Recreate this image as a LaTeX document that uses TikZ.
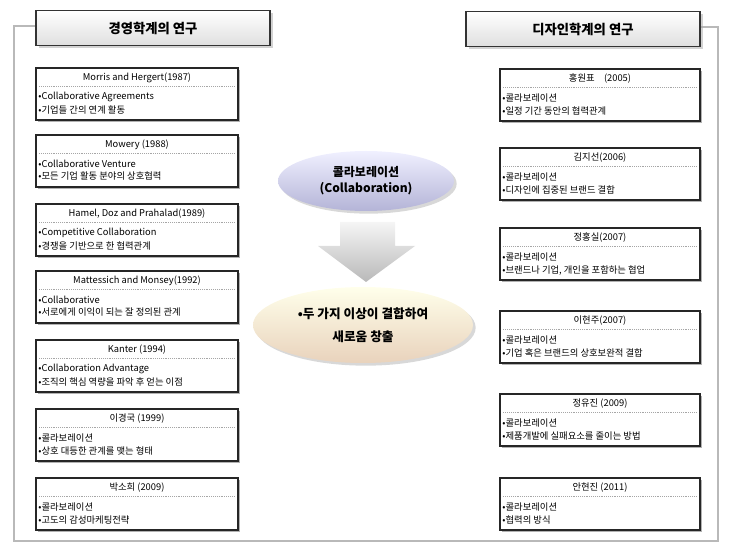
\documentclass[tikz,border=0pt]{standalone}
\usepackage{fontspec}
\setmainfont{Noto Sans CJK KR}
\usetikzlibrary{shadows,shapes.geometric,positioning}
\tikzset{
  frame/.style={draw=gray!55, line width=2.2pt},
  titlebox/.style={draw=black!80, thick, minimum width=175.5pt, minimum height=26pt,
    top color=white, bottom color=gray!25, font=\bfseries\fontsize{10}{12}\selectfont,
    drop shadow={shadow xshift=2pt,shadow yshift=-2pt,fill=gray!70}},
  refbox/.style={draw=black!85, thick, fill=white, minimum height=39pt,
    drop shadow={shadow xshift=1.8pt,shadow yshift=-1.8pt,fill=black!60}},
  reftext/.style={font=\fontsize{7}{8}\selectfont, inner sep=0pt},
  sep/.style={densely dotted, gray!70, thin},
  cloud/.style={ellipse, draw=none, drop shadow={shadow xshift=2pt,shadow yshift=-2pt,fill=gray!60}},
}
\begin{document}
\begin{tikzpicture}[x=0.75pt,y=-0.75pt]
  \useasboundingbox (0,0) rectangle (732,552);
  % frame
  \draw[frame] (36,26) -- (14,26) -- (14,541) -- (718,541) -- (718,27) -- (700,27);
  \node[titlebox] (mgmt) at (153,28) {경영학계의 연구};
  \node[titlebox] (design) at (583,29) {디자인학계의 연구};
  % left column
  \foreach \nm/\yy/\ttl/\la/\lb in {
      m1/94/{Morris and Hergert(1987)}/{Collaborative Agreements}/{기업들 간의 연계 활동},
      m2/161/{Mowery (1988)}/{Collaborative Venture}/{모든 기업 활동 분야의 상호협력},
      m3/230/{Hamel, Doz and Prahalad(1989)}/{Competitive Collaboration}/{경쟁을 기반으로 한 협력관계},
      m4/297/{Mattessich and Monsey(1992)}/{Collaborative}/{서로에게 이익이 되는 잘 정의된 관계},
      m5/366/{Kanter (1994)}/{Collaboration Advantage}/{조직의 핵심 역량을 파악 후 얻는 이점},
      m6/435/{이경국 (1999)}/{콜라보레이션}/{상호 대등한 관계를 맺는 형태},
      m7/504/{박소희 (2009)}/{콜라보레이션}/{고도의 감성마케팅전략}}{
    \node[refbox, minimum width=151.5pt] (\nm) at (137,\yy) {};
    \node[reftext, below=3.5pt of \nm.north] (\nm t) {\ttl};
    \draw[sep] ([xshift=3pt,yshift=-14pt]\nm.north west) -- ([xshift=-3pt,yshift=-14pt]\nm.north east);
    \node[reftext, anchor=west] (\nm a) at ([xshift=2pt,yshift=-2pt]\nm.west) {•\la};
    \node[reftext, below=3pt of \nm a.south west, anchor=north west] (\nm b) {•\lb};
  }
  % right column
  \foreach \nm/\yy/\ttl/\la/\lb in {
      d1/95/{홍원표\quad(2005)}/{콜라보레이션}/{일정 기간 동안의 협력관계},
      d2/174/{김지선(2006)}/{콜라보레이션}/{디자인에 집중된 브랜드 결합},
      d3/254/{정홍실(2007)}/{콜라보레이션}/{브랜드나 기업, 개인을 포함하는 협업},
      d4/337/{이현주(2007)}/{콜라보레이션}/{기업 혹은 브랜드의 상호보완적 결합},
      d5/420/{정유진 (2009)}/{콜라보레이션}/{제품개발에 실패요소를 줄이는 방법},
      d6/504/{안현진 (2011)}/{콜라보레이션}/{협력의 방식}}{
    \node[refbox, minimum width=150pt] (\nm) at (600,\yy) {};
    \node[reftext, below=3.5pt of \nm.north] (\nm t) {\ttl};
    \draw[sep] ([xshift=3pt,yshift=-14pt]\nm.north west) -- ([xshift=-3pt,yshift=-14pt]\nm.north east);
    \node[reftext, anchor=west] (\nm a) at ([xshift=2pt,yshift=-2pt]\nm.west) {•\la};
    \node[reftext, below=3pt of \nm a.south west, anchor=north west] (\nm b) {•\lb};
  }
  % centre
  \node[cloud, minimum width=132pt, minimum height=45pt, top color=blue!6, bottom color=blue!30!gray!45,
        align=center, font=\bfseries\fontsize{9}{12}\selectfont] (collab) at (366,181)
        {콜라보레이션\\(Collaboration)};
  \shade[top color=gray!8, bottom color=gray!55]
        (340,222) -- (395,222) -- (395,246) -- (415,246) -- (366,282) -- (318,246) -- (340,246) -- cycle;
  \node[cloud, minimum width=165pt, minimum height=57pt, top color=yellow!8!white, bottom color=brown!35!white,
        align=center, font=\bfseries\fontsize{9.5}{17}\selectfont] (create) at (363,325)
        {•두 가지 이상이 결합하여\\새로움 창출};
\end{tikzpicture}
\end{document}
